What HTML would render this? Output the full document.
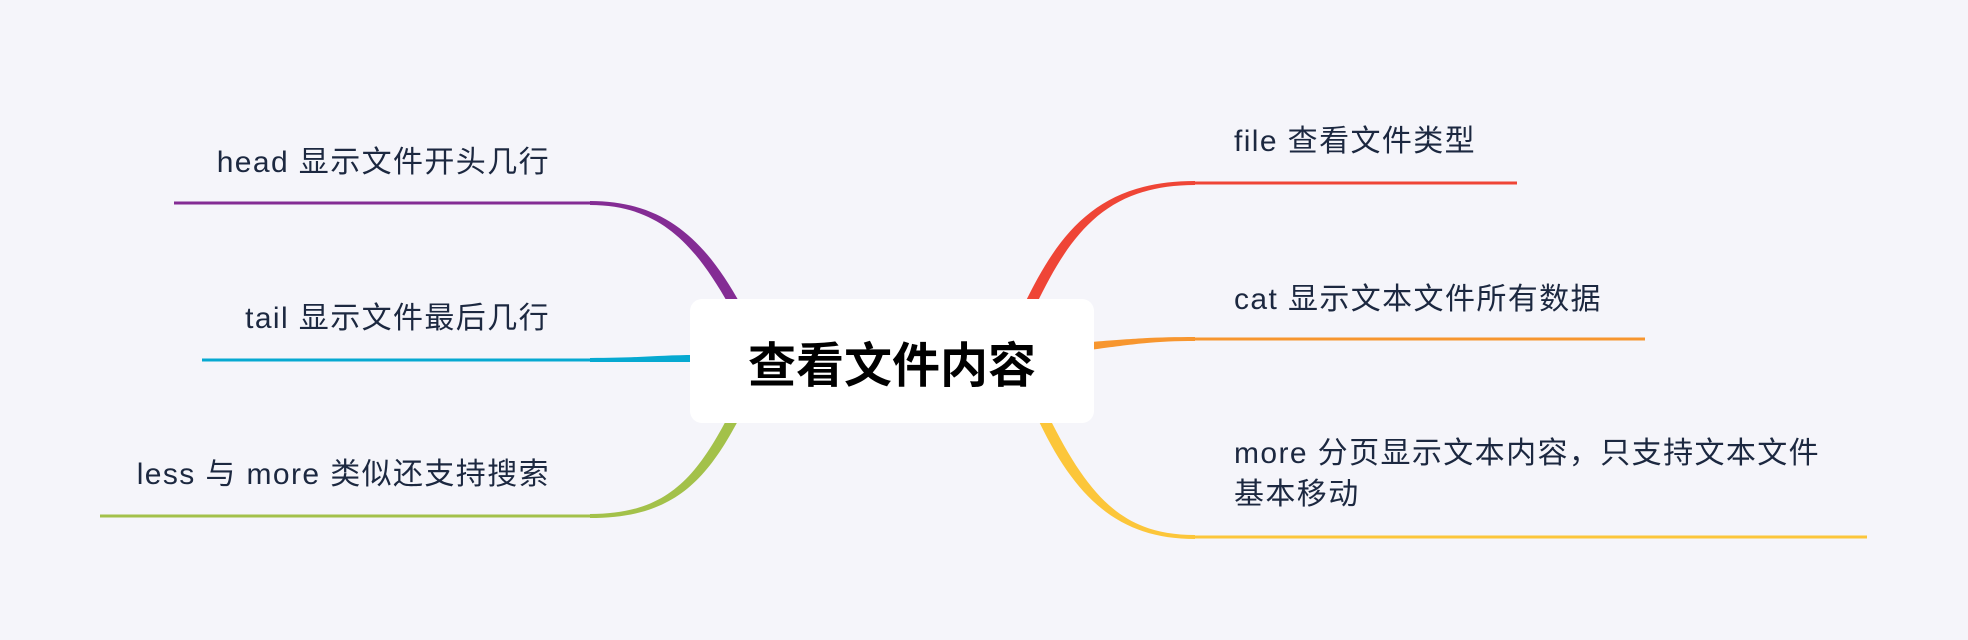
<!DOCTYPE html>
<html><head><meta charset="utf-8"><style>
body{margin:0;width:1968px;height:640px;background:#f5f5fa;overflow:hidden;position:relative;font-family:"Liberation Sans","Noto Sans CJK SC",sans-serif;}
svg{position:absolute;left:0;top:0}
.t{position:absolute;font-size:30px;letter-spacing:1.4px;color:#1c2840;white-space:nowrap;line-height:41px}
.l{text-align:right;right:1418px}
.box{position:absolute;left:690px;top:299px;width:404px;height:124px;background:#fff;border-radius:12px;display:flex;align-items:center;justify-content:center;font-size:48px;font-weight:bold;color:#000}
</style></head><body>
<svg width="1968" height="640">
<g stroke-linecap="butt">
<path d="M1195 181 C1100 181 1060 230 1024 305 L1036 305 C1070 235 1105 185 1195 185 Z" fill="#ef4536"/>
<line x1="1190" y1="183" x2="1517" y2="183" stroke="#ef4536" stroke-width="3"/>
<path d="M1090 342 C1140 338 1160 337 1195 337 L1195 341 C1160 341 1140 343 1090 350 Z" fill="#f7962f"/>
<line x1="1190" y1="339" x2="1645" y2="339" stroke="#f7962f" stroke-width="3"/>
<path d="M1036 415 C1075 500 1120 539 1195 539 L1195 535 C1125 535 1090 500 1048 415 Z" fill="#fcc63a"/>
<line x1="1190" y1="537" x2="1867" y2="537" stroke="#fcc63a" stroke-width="3"/>
<path d="M590 201 C665 201 705 240 741 305 L729 305 C695 245 660 205 590 205 Z" fill="#842c94"/>
<line x1="174" y1="203" x2="595" y2="203" stroke="#842c94" stroke-width="3"/>
<path d="M590 358 C640 358 660 355 695 355 L695 362 C660 362 640 362 590 362 Z" fill="#06a9d1"/>
<line x1="202" y1="360" x2="595" y2="360" stroke="#06a9d1" stroke-width="3"/>
<path d="M590 514 C665 514 695 480 729 415 L741 415 C705 485 670 518 590 518 Z" fill="#a3c14a"/>
<line x1="100" y1="516" x2="595" y2="516" stroke="#a3c14a" stroke-width="3"/>
</g></svg>
<div class="box">查看文件内容</div>
<div class="t" style="left:1234px;top:121px">file 查看文件类型</div>
<div class="t" style="left:1234px;top:279px">cat 显示文本文件所有数据</div>
<div class="t" style="left:1234px;top:433px">more 分页显示文本内容，只支持文本文件<br>基本移动</div>
<div class="t l" style="top:142px">head 显示文件开头几行</div>
<div class="t l" style="top:298px">tail 显示文件最后几行</div>
<div class="t l" style="top:454px">less 与 more 类似还支持搜索</div>
</body></html>
